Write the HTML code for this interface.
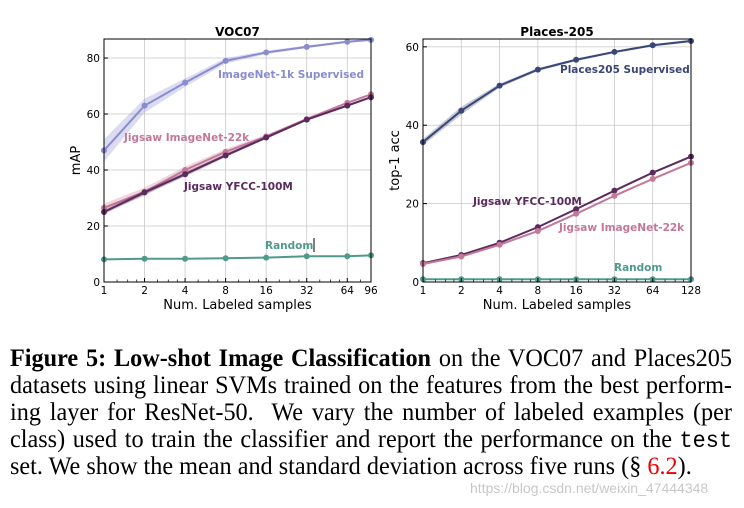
<!DOCTYPE html>
<html><head><meta charset="utf-8"><style>
body{margin:0;width:744px;height:508px;background:#fff;position:relative;overflow:hidden}
svg{position:absolute;left:0;top:0}
.cap{position:absolute;left:10px;width:760px;transform:scaleX(0.95);transform-origin:0 0;font-family:"Liberation Serif",serif;font-size:25.5px;line-height:27px;color:#000;text-align:justify;text-align-last:justify;white-space:normal}
.mono{font-family:"Liberation Mono",monospace;font-size:23px}
</style></head><body>
<svg id="chart" width="744" height="340"></svg>
<div class="cap" style="top:344px"><b>Figure 5: Low-shot Image Classification</b> on the VOC07 and Places205</div>
<div class="cap" style="top:371px">datasets using linear SVMs trained on the features from the best perform-</div>
<div class="cap" style="top:398px">ing layer for ResNet-50. &nbsp;We vary the number of labeled examples (per</div>
<div class="cap" style="top:425px">class) used to train the classifier and report the performance on the <span class="mono">test</span></div>
<div class="cap" style="top:452px;text-align-last:left">set. We show the mean and standard deviation across five runs (§ <span style="color:#e00">6.2</span>).</div>
<div style="position:absolute;left:470px;top:480px;font-family:'Liberation Sans',sans-serif;font-size:14px;color:#c8c8c8">https://blog.csdn.net/weixin_47444348</div>
<script>
const vocX=[1,2,4,8,16,32,64,96];
const vocSup=[47,63,71.2,79,82,84,85.8,86.5];
const voc22k=[26.5,32.2,40,46.5,52,58.2,64,67];
const vocYfcc=[25,32,38.5,45.2,51.6,58,63,66];
const vocRand=[8.1,8.3,8.3,8.5,8.7,9.2,9.2,9.5];
const vocYTicks=[0,20,40,60,80];
const plX=[1,2,4,8,16,32,64,128];
const plSup=[35.7,43.7,50.1,54.2,56.7,58.7,60.4,61.5];
const plYfcc=[4.8,6.9,10,14,18.6,23.3,27.9,32];
const pl22k=[4.6,6.5,9.5,13,17.4,22,26.3,30.4];
const plRand=[0.7,0.7,0.7,0.7,0.7,0.7,0.7,0.7];
const plYTicks=[0,20,40,60];

const svg=document.getElementById('chart');
const NS='http://www.w3.org/2000/svg';
function mk(tag,attrs,parent){const e=document.createElementNS(NS,tag);for(const k in attrs)e.setAttribute(k,attrs[k]);(parent||svg).appendChild(e);return e;}
function txt(s,attrs){const t=mk('text',attrs);t.textContent=s;return t;}

function panel(o){
  const g=mk('g',{});
  
  
  const xs=v=>o.x0+Math.log2(v)/Math.log2(o.xmax)*(o.x1-o.x0);
  const ys=v=>o.y1-v/o.ymax*(o.y1-o.y0);
  o.xt.forEach(v=>{const l=mk('line',{x1:xs(v),x2:xs(v),y1:o.y0,y2:o.y1,stroke:'#c8c8c8','stroke-width':0.8},g);});
  o.yt.forEach(v=>{const l=mk('line',{x1:o.x0,x2:o.x1,y1:ys(v),y2:ys(v),stroke:'#c8c8c8','stroke-width':0.8},g);});
  o.series.forEach(s=>{
    if(s.band){
      const up=s.v.map((v,i)=>[xs(o.xt[i]),ys(v+s.band[i])]);
      const dn=s.v.map((v,i)=>[xs(o.xt[i]),ys(v-s.band[i])]).reverse();
      const b=mk('polygon',{points:up.concat(dn).map(p=>p.join(',')).join(' '),fill:s.c,'fill-opacity':0.3},g);
      
      
    }
    const pl=mk('polyline',{points:s.v.map((v,i)=>xs(o.xt[i])+','+ys(v)).join(' '),fill:'none',stroke:s.c,'stroke-width':2},g);
    
    
    s.v.forEach((v,i)=>{const c=mk('circle',{cx:xs(o.xt[i]),cy:ys(v),r:3,fill:s.c},g);});
    const t=txt(s.label,{x:s.lx,y:s.ly,fill:s.c,'font-family':'DejaVu Sans, sans-serif','font-size':10.5,'font-weight':'bold'});
    
    
  });
  const f=mk('rect',{x:o.x0,y:o.y0,width:o.x1-o.x0,height:o.y1-o.y0,fill:'none',stroke:'#000','stroke-width':1},g);
  
  for(let d=1;d<o.xmax;d*=2){for(let m=1.25;m<2;m+=0.25){const v=d*m;if(v<=o.xmax)mk('line',{x1:xs(v),x2:xs(v),y1:o.y1,y2:o.y1-2.5,stroke:'#000','stroke-width':0.7},g);}}
  o.xt.forEach(v=>{mk('line',{x1:xs(v),x2:xs(v),y1:o.y1,y2:o.y1-4,stroke:'#000'},g);
    const t=txt(String(v),{x:xs(v),y:o.y1+12,'text-anchor':'middle','font-family':'DejaVu Sans, sans-serif','font-size':10.5});});
  o.yt.forEach(v=>{mk('line',{x1:o.x0,x2:o.x0+4,y1:ys(v),y2:ys(v),stroke:'#000'},g);
    const t=txt(String(v),{x:o.x0-4,y:ys(v)+4,'text-anchor':'end','font-family':'DejaVu Sans, sans-serif','font-size':10.5});});
  const tt=txt(o.title,{x:(o.x0+o.x1)/2,y:o.y0-3,'text-anchor':'middle','font-family':'DejaVu Sans, sans-serif','font-size':12,'font-weight':'bold'});
  
  const xl=txt('Num. Labeled samples',{x:(o.x0+o.x1)/2,y:o.y1+27,'text-anchor':'middle','font-family':'DejaVu Sans, sans-serif','font-size':13});
  
  const yl=txt(o.ylab,{x:0,y:0,'text-anchor':'middle','font-family':'DejaVu Sans, sans-serif','font-size':13,transform:`translate(${o.ylx},${(o.y0+o.y1)/2}) rotate(-90)`});
  
}

panel({name:'voc07-chart',title:'VOC07',ylab:'mAP',ylx:80,x0:104,x1:371,y0:39,y1:282,xmax:96,ymax:86.8,xt:vocX,yt:vocYTicks,series:[
  {key:'imagenet-1k-supervised',label:'ImageNet-1k Supervised',c:'#8a8cd0',v:vocSup,band:[4,2.5,1.5,1,0.6,0.5,0.4,0.3],lx:218,ly:78},
  {key:'jigsaw-imagenet-22k',label:'Jigsaw ImageNet-22k',c:'#c47898',v:voc22k,band:[1.5,1.5,1.2,1,0.6,0.5,0.4,0.4],lx:124,ly:141},
  {key:'jigsaw-yfcc-100m',label:'Jigsaw YFCC-100M',c:'#5b2a5e',v:vocYfcc,band:[0.8,0.8,0.8,0.6,0.5,0.4,0.3,0.3],lx:184,ly:190},
  {key:'random',label:'Random',c:'#4e9a8c',v:vocRand,lx:265,ly:249}
]});
panel({name:'places205-chart',title:'Places-205',ylab:'top-1 acc',ylx:399,x0:423,x1:691,y0:39,y1:282,xmax:128,ymax:62,xt:plX,yt:plYTicks,series:[
  {key:'places205-supervised',label:'Places205 Supervised',c:'#3a4677',v:plSup,band:[0.8,1,0.5,0.4,0.3,0.3,0.3,0.3],lx:560,ly:73},
  {key:'jigsaw-yfcc-100m',label:'Jigsaw YFCC-100M',c:'#5b2a5e',v:plYfcc,lx:473,ly:205},
  {key:'jigsaw-imagenet-22k',label:'Jigsaw ImageNet-22k',c:'#c47898',v:pl22k,lx:559,ly:231},
  {key:'random',label:'Random',c:'#4e9a8c',v:plRand,lx:614,ly:271}
]});
mk('line',{x1:314,x2:314,y1:238,y2:252,stroke:'#000','stroke-width':1});
</script>
</body></html>
